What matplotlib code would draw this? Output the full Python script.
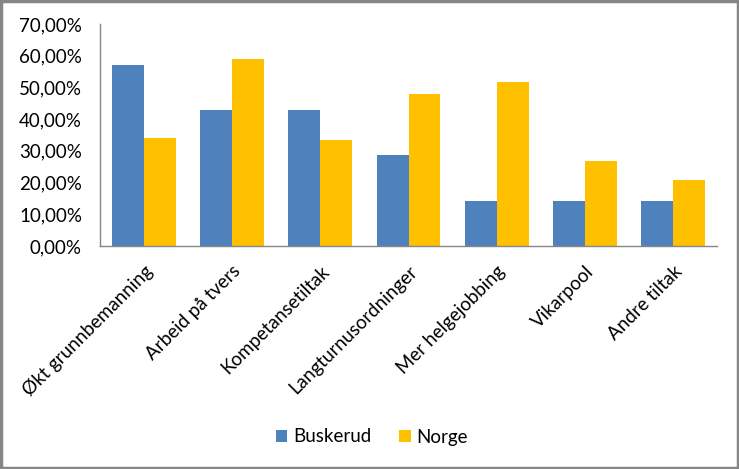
import matplotlib
matplotlib.use("Agg")
import matplotlib.pyplot as plt
import numpy as np
from matplotlib.ticker import FuncFormatter

categories = ["Økt grunnbemanning", "Arbeid på tvers", "Kompetansetiltak",
              "Langturnusordninger", "Mer helgejobbing", "Vikarpool", "Andre tiltak"]
buskerud = [57.14, 42.86, 42.86, 28.57, 14.29, 14.29, 14.29]
norge = [34.1, 59.0, 33.4, 47.9, 51.7, 26.8, 20.8]
series_names = ["Buskerud", "Norge"]
yticks = [0, 10, 20, 30, 40, 50, 60, 70]

plt.rcParams['font.family'] = ['Lato', 'DejaVu Sans']
FS = 13.5

fig = plt.figure(figsize=(7.39, 4.69), dpi=100)
ax = fig.add_axes([100/739, 1-246/469, (717-100)/739, (246-24)/469])

x = np.arange(len(categories))
w = 0.363
ax.bar(x - w/2, buskerud, w, color="#4F81BD", label=series_names[0])
ax.bar(x + w/2, norge, w, color="#FFC000", label=series_names[1])

ax.set_xlim(-0.5, len(categories) - 0.5)
ax.set_ylim(0, 70)
ax.set_yticks(yticks)
ax.yaxis.set_major_formatter(FuncFormatter(lambda v, p: f"{v:.2f}".replace(".", ",") + "%"))
ax.tick_params(axis='y', length=0, pad=13, labelsize=FS, colors='#000000')
ax.set_xticks(x)
ax.set_xticklabels(categories, rotation=45, ha='right', rotation_mode='anchor', fontsize=FS)
ax.tick_params(axis='x', length=0, pad=12)

for s in ['top', 'right']:
    ax.spines[s].set_visible(False)
for s in ['left', 'bottom']:
    ax.spines[s].set_color('#868686')
    ax.spines[s].set_linewidth(1)

leg = fig.legend(loc='center', bbox_to_anchor=(372/739, 1-437/469), ncol=2, frameon=False,
                 fontsize=FS, handlelength=0.6, handleheight=0.6, handletextpad=0.3,
                 columnspacing=1.5)

fig.patches.append(plt.Rectangle((0.0015, 0.002), 0.997, 0.996, transform=fig.transFigure,
                                 fill=False, edgecolor='#868686', linewidth=2.5))

fig.savefig("out.png", dpi=100)
